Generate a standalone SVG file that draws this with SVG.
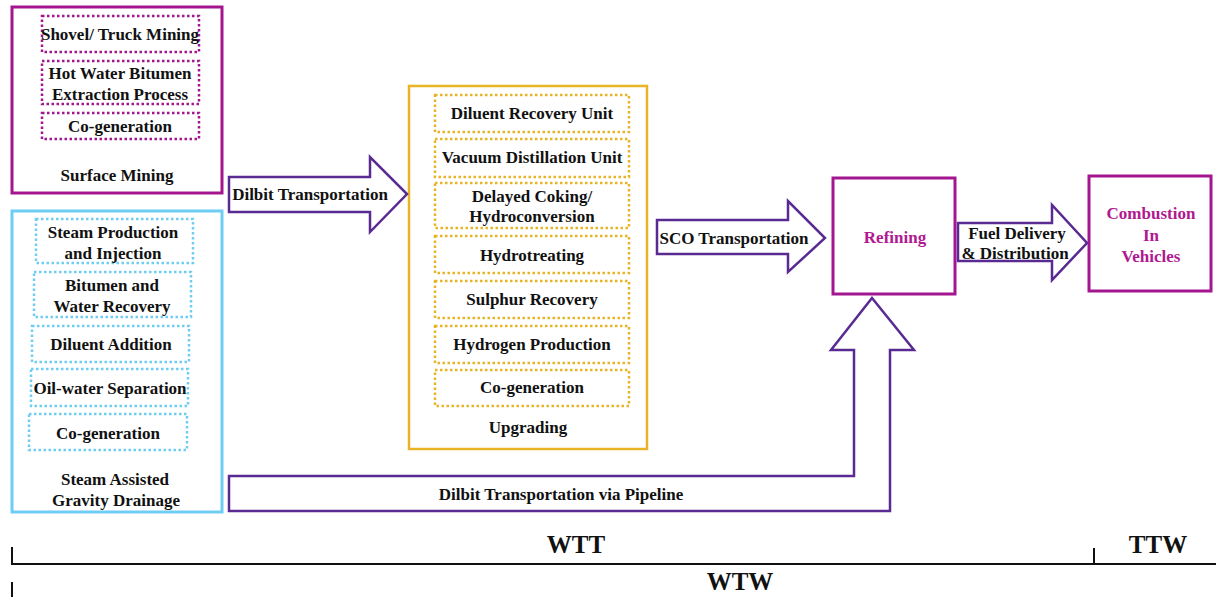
<svg xmlns="http://www.w3.org/2000/svg" width="1216" height="597" viewBox="0 0 1216 597">
<style>
text{font-family:"Liberation Serif","Times New Roman",serif;font-weight:bold;font-size:17px;fill:#111;text-anchor:middle}
.mag{fill:none;stroke:#a3168f;stroke-width:3}
.cyan{fill:none;stroke:#6fcdf4;stroke-width:3}
.gold{fill:none;stroke:#e8b425;stroke-width:2.5}
.dmag{fill:none;stroke:#a3168f;stroke-width:2.5;stroke-dasharray:2.5 2.5}
.dcyan{fill:none;stroke:#6fcdf4;stroke-width:2.5;stroke-dasharray:2.5 2.5}
.dgold{fill:none;stroke:#e8b425;stroke-width:2.5;stroke-dasharray:2.5 2.5}
.arr{fill:#fff;stroke:#5a2a93;stroke-width:2.5;stroke-linejoin:miter}
.pt{fill:#b0198f}
.big{font-size:25px}
.ln{stroke:#111;stroke-width:2;fill:none}
</style>
<rect width="1216" height="597" fill="#fff"/>

<g id="surface-mining">
<rect class="mag" x="12" y="7" width="210" height="186"/>
<rect class="dmag" x="42" y="16" width="157" height="36"/>
<text x="120" y="40">Shovel/ Truck Mining</text>
<rect class="dmag" x="42" y="61" width="157" height="43"/>
<text x="120" y="79">Hot Water Bitumen</text>
<text x="120" y="100">Extraction Process</text>
<rect class="dmag" x="42" y="113" width="157" height="26"/>
<text x="120" y="132">Co-generation</text>
<text x="117" y="181">Surface  Mining</text>
</g>

<g id="sagd">
<rect class="cyan" x="12" y="211" width="210" height="301"/>
<rect class="dcyan" x="36" y="219" width="157" height="44"/>
<text x="113" y="238">Steam Production</text>
<text x="113" y="259">and Injection</text>
<rect class="dcyan" x="34" y="272" width="157" height="45"/>
<text x="112" y="291">Bitumen and</text>
<text x="112" y="312">Water Recovery</text>
<rect class="dcyan" x="32" y="326" width="157" height="36"/>
<text x="111" y="350">Diluent Addition</text>
<rect class="dcyan" x="31" y="369" width="157" height="37"/>
<text x="110" y="394">Oil-water Separation</text>
<rect class="dcyan" x="29" y="414" width="158" height="36"/>
<text x="108" y="439">Co-generation</text>
<text x="115" y="485">Steam  Assisted</text>
<text x="116" y="506">Gravity Drainage</text>
</g>

<g id="upgrading">
<rect class="gold" x="409" y="86" width="238" height="363"/>
<rect class="dgold" x="435" y="95" width="194" height="37"/>
<text x="532" y="119">Diluent Recovery Unit</text>
<rect class="dgold" x="435" y="139" width="194" height="38"/>
<text x="532" y="163">Vacuum Distillation Unit</text>
<rect class="dgold" x="435" y="183" width="194" height="45"/>
<text x="532" y="202">Delayed Coking/</text>
<text x="532" y="222">Hydroconversion</text>
<rect class="dgold" x="435" y="236" width="194" height="37"/>
<text x="532" y="261">Hydrotreating</text>
<rect class="dgold" x="435" y="281" width="194" height="37"/>
<text x="532" y="305">Sulphur Recovery</text>
<rect class="dgold" x="435" y="326" width="194" height="37"/>
<text x="532" y="350">Hydrogen Production</text>
<rect class="dgold" x="435" y="370" width="194" height="36"/>
<text x="532" y="393">Co-generation</text>
<text x="528" y="433">Upgrading</text>
</g>

<g id="refining">
<rect class="mag" x="833" y="178" width="122" height="116"/>
<text class="pt" x="895" y="243">Refining</text>
</g>

<g id="combustion">
<rect class="mag" x="1089" y="176" width="122" height="115"/>
<text class="pt" x="1151" y="219">Combustion</text>
<text class="pt" x="1151" y="241">In</text>
<text class="pt" x="1151" y="262">Vehicles</text>
</g>

<g id="connectors">
<polygon class="arr" points="229,177 370,177 370,157 407,194 370,232 370,212 229,212"/>
<text x="310" y="200">Dilbit Transportation</text>
<polygon class="arr" points="657,220 788,220 788,201 825,238 788,272 788,254 657,254"/>
<text x="734" y="244">SCO Transportation</text>
<polygon class="arr" points="958,223 1052,223 1052,205 1087,243 1052,280 1052,261 958,261"/>
<text x="1017" y="239">Fuel Delivery</text>
<text x="1015" y="259">&amp; Distribution</text>
<polygon class="arr" points="229,476 854,476 854,350 831,350 872,298 914,350 890,350 890,511 229,511"/>
<text x="561" y="500">Dilbit Transportation via Pipeline</text>
</g>

<g id="scale">
<path class="ln" d="M12,547 V564 H1216 M1094,548 V564 M12,582 V597"/>
<text class="big" x="576" y="553">WTT</text>
<text class="big" x="1158" y="553">TTW</text>
<text class="big" x="740" y="590">WTW</text>
</g>
</svg>
